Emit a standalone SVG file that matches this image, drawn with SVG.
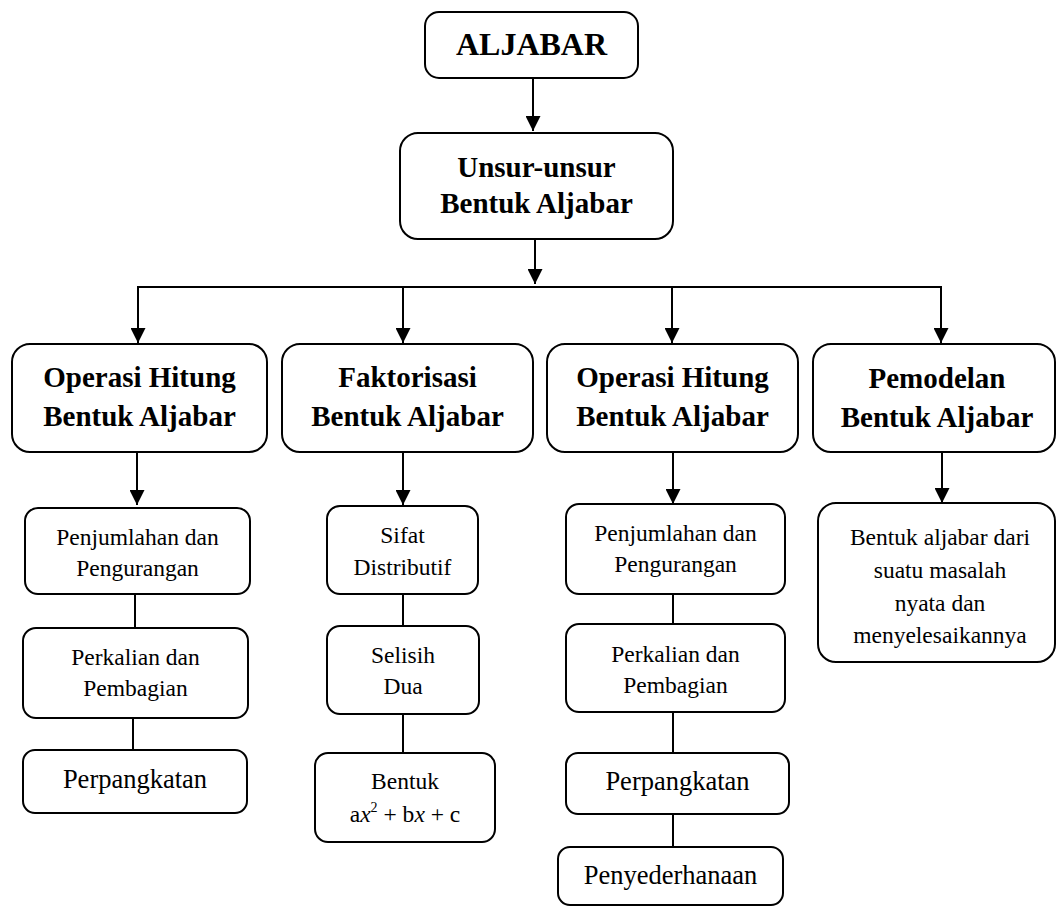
<svg xmlns="http://www.w3.org/2000/svg" width="1057" height="907" viewBox="0 0 1057 907">
<defs>
<style>
.box{fill:#fff;stroke:#000;stroke-width:2}
.ln{stroke:#000;stroke-width:2;fill:none}
.h1{font-family:"Liberation Serif","Times New Roman",serif;font-weight:bold;font-size:32px;text-anchor:middle;fill:#000}
.h2{font-family:"Liberation Serif","Times New Roman",serif;font-weight:bold;font-size:29px;text-anchor:middle;fill:#000}
.t{font-family:"Liberation Serif","Times New Roman",serif;font-size:23.5px;text-anchor:middle;fill:#000}
.t1{font-family:"Liberation Serif","Times New Roman",serif;font-size:26.5px;text-anchor:middle;fill:#000}
</style>
<marker id="ah" markerUnits="userSpaceOnUse" markerWidth="15" markerHeight="15" refX="15" refY="7.5" orient="auto" viewBox="0 0 15 15">
<path d="M0,0 L15,7.5 L0,15 z" fill="#000"/>
</marker>
</defs>
<rect width="1057" height="907" fill="#fff"/>
<g id="connectors">
<line class="ln" x1="533" y1="78" x2="533" y2="131" marker-end="url(#ah)"/>
<line class="ln" x1="535" y1="239" x2="535" y2="284" marker-end="url(#ah)"/>
<polyline class="ln" points="138,343 138,287 941,287 941,343"/>
<line class="ln" x1="138" y1="287" x2="138" y2="343" marker-end="url(#ah)"/>
<line class="ln" x1="403" y1="287" x2="403" y2="343" marker-end="url(#ah)"/>
<line class="ln" x1="672" y1="287" x2="672" y2="343" marker-end="url(#ah)"/>
<line class="ln" x1="941" y1="287" x2="941" y2="343" marker-end="url(#ah)"/>
<line class="ln" x1="137" y1="452" x2="137" y2="505" marker-end="url(#ah)"/>
<line class="ln" x1="403" y1="452" x2="403" y2="505" marker-end="url(#ah)"/>
<line class="ln" x1="673" y1="452" x2="673" y2="504" marker-end="url(#ah)"/>
<line class="ln" x1="942" y1="452" x2="942" y2="503" marker-end="url(#ah)"/>
<line class="ln" x1="135" y1="594" x2="135" y2="628"/>
<line class="ln" x1="133" y1="718" x2="133" y2="750"/>
<line class="ln" x1="403" y1="594" x2="403" y2="626"/>
<line class="ln" x1="403" y1="714" x2="403" y2="753"/>
<line class="ln" x1="673" y1="594" x2="673" y2="624"/>
<line class="ln" x1="673" y1="712" x2="673" y2="753"/>
<line class="ln" x1="673" y1="814" x2="673" y2="847"/>
</g>
<g id="n-aljabar">
<rect class="box" x="425" y="12" width="213" height="66" rx="14"/>
<text class="h1" x="531.5" y="55">ALJABAR</text>
</g>
<g id="n-unsur">
<rect class="box" x="400" y="133" width="273" height="106" rx="18"/>
<text class="h2" x="536.5" y="177">Unsur-unsur</text>
<text class="h2" x="536.5" y="213">Bentuk Aljabar</text>
</g>
<g id="n-operasi1">
<rect class="box" x="12" y="344" width="255" height="108" rx="18"/>
<text class="h2" x="139.5" y="387">Operasi Hitung</text>
<text class="h2" x="139.5" y="426">Bentuk Aljabar</text>
</g>
<g id="n-faktorisasi">
<rect class="box" x="282" y="344" width="251" height="108" rx="18"/>
<text class="h2" x="407.5" y="387">Faktorisasi</text>
<text class="h2" x="407.5" y="426">Bentuk Aljabar</text>
</g>
<g id="n-operasi2">
<rect class="box" x="547" y="344" width="251" height="108" rx="18"/>
<text class="h2" x="672.5" y="387">Operasi Hitung</text>
<text class="h2" x="672.5" y="426">Bentuk Aljabar</text>
</g>
<g id="n-pemodelan">
<rect class="box" x="813" y="344" width="242" height="108" rx="18"/>
<text class="h2" x="937" y="388">Pemodelan</text>
<text class="h2" x="937" y="427">Bentuk Aljabar</text>
</g>
<g id="n-c1-penjumlahan">
<rect class="box" x="25" y="508" width="225" height="86" rx="13"/>
<text class="t" x="137.5" y="545">Penjumlahan dan</text>
<text class="t" x="137.5" y="576">Pengurangan</text>
</g>
<g id="n-c1-perkalian">
<rect class="box" x="23" y="628" width="225" height="90" rx="13"/>
<text class="t" x="135.5" y="665">Perkalian dan</text>
<text class="t" x="135.5" y="696">Pembagian</text>
</g>
<g id="n-c1-perpangkatan">
<rect class="box" x="23" y="750" width="224" height="63" rx="12"/>
<text class="t1" x="135" y="788">Perpangkatan</text>
</g>
<g id="n-c2-sifat">
<rect class="box" x="327" y="506" width="151" height="88" rx="13"/>
<text class="t" x="402.5" y="543">Sifat</text>
<text class="t" x="402.5" y="575">Distributif</text>
</g>
<g id="n-c2-selisih">
<rect class="box" x="327" y="626" width="152" height="88" rx="13"/>
<text class="t" x="403" y="663">Selisih</text>
<text class="t" x="403" y="694">Dua</text>
</g>
<g id="n-c2-bentuk">
<rect class="box" x="315" y="753" width="180" height="89" rx="13"/>
<text class="t" x="405" y="789">Bentuk</text>
<text class="t" x="405" y="822">a<tspan font-style="italic">x</tspan><tspan font-size="14px" dy="-10">2</tspan><tspan dy="10"> + b</tspan><tspan font-style="italic">x</tspan> + c</text>
</g>
<g id="n-c3-penjumlahan">
<rect class="box" x="566" y="504" width="219" height="90" rx="13"/>
<text class="t" x="675.5" y="541">Penjumlahan dan</text>
<text class="t" x="675.5" y="572">Pengurangan</text>
</g>
<g id="n-c3-perkalian">
<rect class="box" x="566" y="624" width="219" height="88" rx="13"/>
<text class="t" x="675.5" y="662">Perkalian dan</text>
<text class="t" x="675.5" y="693">Pembagian</text>
</g>
<g id="n-c3-perpangkatan">
<rect class="box" x="566" y="753" width="223" height="61" rx="12"/>
<text class="t1" x="677.5" y="790">Perpangkatan</text>
</g>
<g id="n-c3-penyederhanaan">
<rect class="box" x="558" y="847" width="225" height="58" rx="12"/>
<text class="t1" x="670.5" y="884">Penyederhanaan</text>
</g>
<g id="n-c4-bentuk">
<rect class="box" x="818" y="503" width="237" height="159" rx="18"/>
<text class="t" x="940" y="545">Bentuk aljabar dari</text>
<text class="t" x="940" y="578">suatu masalah</text>
<text class="t" x="940" y="611">nyata dan</text>
<text class="t" x="940" y="643">menyelesaikannya</text>
</g>
</svg>
